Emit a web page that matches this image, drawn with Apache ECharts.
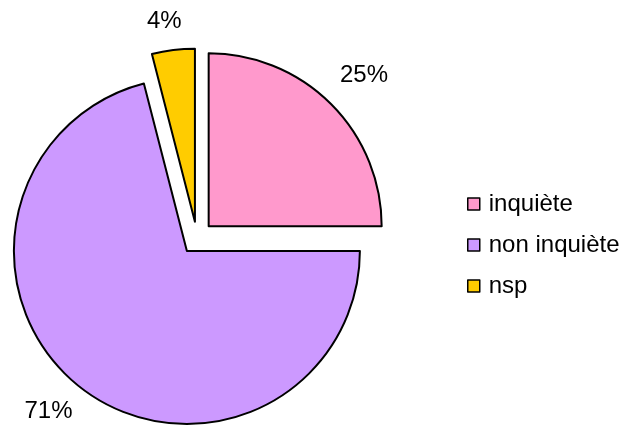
<!DOCTYPE html>
<html>
<head>
<meta charset="utf-8">
<script src="https://cdn.jsdelivr.net/npm/echarts@6/dist/echarts.min.js"></script>
<style>
html,body{margin:0;padding:0;background:#fff;}
#chart{width:631px;height:426px;}
</style>
</head>
<body>
<div id="chart"></div>
<script>
// données
const categories = ['inquiète', 'non inquiète', 'nsp'];
const values = [25, 71, 4];
const colors = ['#FF99CC', '#CC99FF', '#FFCC00'];

// réglage des étiquettes (pas de trait de rappel visible)
const labelLen = [41, 30, 29];
const labelLen2 = [-25, -15, -17];

const chart = echarts.init(document.getElementById('chart'));

const pieData = categories.map((name, i) => ({
  name: name,
  value: values[i],
  selected: true,
  itemStyle: { color: colors[i] },
  labelLine: { show: false, length: labelLen[i], length2: labelLen2[i] }
}));

const option = {
  animation: false,
  legend: {
    orient: 'vertical',
    left: 462,
    top: 187,
    itemWidth: 12,
    itemHeight: 12,
    itemGap: 17,
    icon: 'rect',
    itemStyle: { borderColor: '#000', borderWidth: 1.5 },
    textStyle: {
      fontFamily: 'Liberation Sans, Arial, sans-serif',
      fontSize: 24,
      lineHeight: 24,
      color: '#000',
      padding: [0, 0, 0, 4]
    },
    selectedMode: false
  },
  series: [{
    type: 'pie',
    center: [197, 238],
    radius: 173,
    startAngle: 90,
    clockwise: true,
    selectedMode: 'multiple',
    selectedOffset: 16.5,
    avoidLabelOverlap: false,
    emphasis: { disabled: true },
    itemStyle: { borderColor: '#000', borderWidth: 2 },
    label: {
      show: true,
      position: 'outside',
      formatter: '{d}%',
      fontFamily: 'Liberation Sans, Arial, sans-serif',
      fontSize: 24,
      color: '#000'
    },
    data: pieData
  }]
};

chart.setOption(option);
</script>
</body>
</html>
